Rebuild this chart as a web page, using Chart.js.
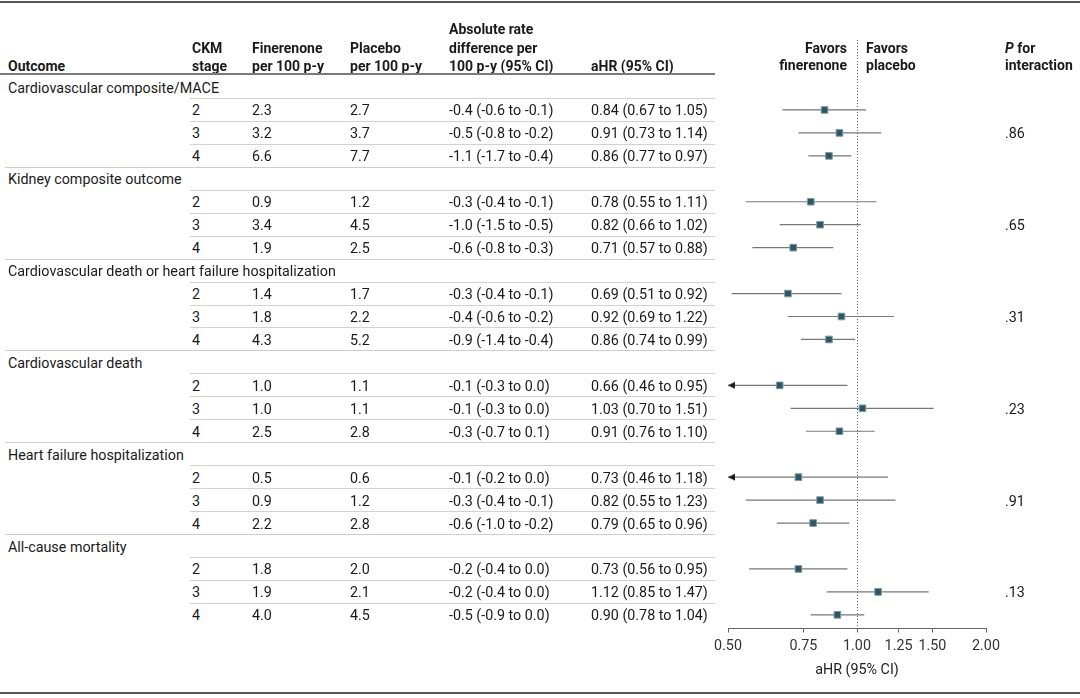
<!DOCTYPE html>
<html>
<head>
<meta charset="utf-8">
<script src="https://cdn.jsdelivr.net/npm/chart.js@4.4.1/dist/chart.umd.min.js"></script>
<style>
html, body { margin: 0; padding: 0; background: #fff; }
#page { position: relative; width: 1080px; height: 698px; overflow: hidden;
        font-family: Roboto, "Liberation Sans", sans-serif; font-size: 14.3px; color: #1a1a1a; }
.t { position: absolute; white-space: nowrap; line-height: 20px; height: 20px; }
.h { font-weight: bold; font-size: 14px; }
.r { text-align: right; }
.rule { position: absolute; height: 0; }
#plot { position: absolute; left: 700px; top: 0; width: 300px; height: 698px; }
</style>
</head>
<body>
<div id="page">
  <div id="plot"><canvas id="forest"></canvas></div>
</div>
<script>
// ---- data ----
const outcomes = [
    'Cardiovascular composite/MACE',
    'Kidney composite outcome',
    'Cardiovascular death or heart failure hospitalization',
    'Cardiovascular death',
    'Heart failure hospitalization',
    'All-cause mortality'
];
const stages = ['2', '3', '4'];

// events per 100 patient-years
const fineRate = [[2.3, 3.2, 6.6], [0.9, 3.4, 1.9], [1.4, 1.8, 4.3], [1.0, 1.0, 2.5], [0.5, 0.9, 2.2], [1.8, 1.9, 4.0]];
const placeboRate = [[2.7, 3.7, 7.7], [1.2, 4.5, 2.5], [1.7, 2.2, 5.2], [1.1, 1.1, 2.8], [0.6, 1.2, 2.8], [2.0, 2.1, 4.5]];

// absolute rate difference (95% CI)
const rateDiff = [[-0.4, -0.5, -1.1], [-0.3, -1.0, -0.6], [-0.3, -0.4, -0.9], [-0.1, -0.1, -0.3], [-0.1, -0.3, -0.6], [-0.2, -0.2, -0.5]];
const rateDiffLo = [[-0.6, -0.8, -1.7], [-0.4, -1.5, -0.8], [-0.4, -0.6, -1.4], [-0.3, -0.3, -0.7], [-0.2, -0.4, -1.0], [-0.4, -0.4, -0.9]];
const rateDiffHi = [[-0.1, -0.2, -0.4], [-0.1, -0.5, -0.3], [-0.1, -0.2, -0.4], [0.0, 0.0, 0.1], [0.0, -0.1, -0.2], [0.0, 0.0, 0.0]];

// adjusted hazard ratio (95% CI)
const hr = [[0.84, 0.91, 0.86], [0.78, 0.82, 0.71], [0.69, 0.92, 0.86], [0.66, 1.03, 0.91], [0.73, 0.82, 0.79], [0.73, 1.12, 0.90]];
const hrLo = [[0.67, 0.73, 0.77], [0.55, 0.66, 0.57], [0.51, 0.69, 0.74], [0.46, 0.70, 0.76], [0.46, 0.55, 0.65], [0.56, 0.85, 0.78]];
const hrHi = [[1.05, 1.14, 0.97], [1.11, 1.02, 0.88], [0.92, 1.22, 0.99], [0.95, 1.51, 1.10], [1.18, 1.23, 0.96], [0.95, 1.47, 1.04]];

const pInteraction = ['.86', '.65', '.31', '.23', '.91', '.13'];

const xTicks = [0.5, 0.75, 1.0, 1.25, 1.5, 2.0];
const xMin = 0.5;
const xMax = 2.0;

// ---- layout (page pixels) ----
const ROW0 = 87;        // centre of first row
const ROW_H = 22.95;
const PLOT_TOP = 40;
const AXIS_Y = 628.5;
const TABLE_RIGHT = 715;
const COLS = { outcome: 8, stage: 192, fine: 252, placebo: 350, diff: 449, hr: 591, p: 1005 };

const page = document.getElementById('page');

function addText(html, x, yc, cls, right) {
    const d = document.createElement('div');
    d.className = 't ' + (cls || '');
    d.innerHTML = html;
    d.style.top = (yc - 10) + 'px';
    if (right) {
        d.classList.add('r');
        d.style.right = (1080 - x) + 'px';
    } else {
        d.style.left = x + 'px';
    }
    page.appendChild(d);
}

function addRule(x1, x2, y, w, color) {
    const d = document.createElement('div');
    d.className = 'rule';
    d.style.left = x1 + 'px';
    d.style.width = (x2 - x1) + 'px';
    d.style.top = (y - w / 2) + 'px';
    d.style.borderTop = w + 'px solid ' + color;
    page.appendChild(d);
}

const fmt1 = v => v.toFixed(1);
const fmt2 = v => v.toFixed(2);

// header
const H1 = 29, H2 = 47.5, H3 = 66;
addText('Outcome', COLS.outcome, H3, 'h');
addText('CKM', COLS.stage, H2, 'h');
addText('stage', COLS.stage, H3, 'h');
addText('Finerenone', COLS.fine, H2, 'h');
addText('per 100 p-y', COLS.fine, H3, 'h');
addText('Placebo', COLS.placebo, H2, 'h');
addText('per 100 p-y', COLS.placebo, H3, 'h');
addText('Absolute rate', COLS.diff, H1, 'h');
addText('difference per', COLS.diff, H2, 'h');
addText('100 p-y (95% CI)', COLS.diff, H3, 'h');
addText('aHR (95% CI)', COLS.hr, H3, 'h');
addText('Favors', 847, H2, 'h', true);
addText('finerenone', 847, H3 - 1.5, 'h', true);
addText('Favors', 866, H2, 'h');
addText('placebo', 866, H3 - 1.5, 'h');
addText('<i>P</i> for', COLS.p, H2, 'h');
addText('interaction', COLS.p, H3 - 1.5, 'h');

addRule(0, 1080, 2, 2, '#555');
addRule(0, TABLE_RIGHT, 74, 2, '#7a7a7a');
addRule(0, 1080, 693, 2, '#555');

// body rows + chart points
const hrPts = [];
const arrowPts = [];
const ciSets = [];

outcomes.forEach((name, g) => {
    const kHead = 4 * g;
    const yHead = ROW0 + kHead * ROW_H;
    addText(name, COLS.outcome, yHead + 0.5);
    addRule(190, TABLE_RIGHT, yHead + ROW_H / 2, 1, '#d2d2d2');

    stages.forEach((st, s) => {
        const k = kHead + 1 + s;
        const y = ROW0 + k * ROW_H + 0.5;
        addText(st, COLS.stage, y);
        addText(fmt1(fineRate[g][s]), COLS.fine, y);
        addText(fmt1(placeboRate[g][s]), COLS.placebo, y);
        addText(fmt1(rateDiff[g][s]) + ' (' + fmt1(rateDiffLo[g][s]) + ' to ' + fmt1(rateDiffHi[g][s]) + ')', COLS.diff, y);
        addText(fmt2(hr[g][s]) + ' (' + fmt2(hrLo[g][s]) + ' to ' + fmt2(hrHi[g][s]) + ')', COLS.hr, y);
        if (s === 1) addText(pInteraction[g], COLS.p, y);

        if (s < 2) {
            addRule(190, TABLE_RIGHT, y - 0.5 + ROW_H / 2, 1, '#d2d2d2');
        } else if (g < outcomes.length - 1) {
            addRule(5, TABLE_RIGHT, y - 0.5 + ROW_H / 2, 1, '#cdcdcd');
        }

        hrPts.push({ x: hr[g][s], y: k });
        if (hrLo[g][s] < xMin) arrowPts.push({ x: xMin, y: k });
        ciSets.push({
            data: [{ x: hrLo[g][s], y: k }, { x: hrHi[g][s], y: k }],
            showLine: true,
            borderColor: '#777',
            borderWidth: 1.2,
            pointRadius: 0,
            order: 3
        });
    });
});

// left-pointing arrowhead, tip at the image centre
const arrowImg = document.createElement('canvas');
arrowImg.width = 16;
arrowImg.height = 8;
const actx = arrowImg.getContext('2d');
actx.fillStyle = '#1a1a1a';
actx.beginPath();
actx.moveTo(8, 4);
actx.lineTo(15, 0.5);
actx.lineTo(15, 7.5);
actx.closePath();
actx.fill();

// y scale chosen so that row k sits on the table row centre
const yMinVal = (PLOT_TOP - ROW0) / ROW_H;
const yMaxVal = (AXIS_Y - ROW0) / ROW_H;
const PLOT_LEFT = 700;

new Chart(document.getElementById('forest'), {
    type: 'scatter',
    data: {
        datasets: [
            {
                data: hrPts,
                pointStyle: 'rect',
                pointRadius: 4.7,
                backgroundColor: '#2e5563',
                borderColor: '#7f9ba3',
                borderWidth: 1,
                order: 1
            },
            {
                data: arrowPts,
                pointStyle: arrowImg,
                pointRadius: 4,
                clip: false,
                order: 2
            },
            ...ciSets
        ]
    },
    options: {
        responsive: true,
        maintainAspectRatio: false,
        animation: false,
        events: [],
        layout: { padding: { left: 728 - PLOT_LEFT, right: 1000 - 986, top: PLOT_TOP, bottom: 0 } },
        plugins: { legend: { display: false }, tooltip: { enabled: false } },
        scales: {
            x: {
                type: 'logarithmic',
                min: xMin,
                max: xMax,
                afterBuildTicks: scale => { scale.ticks = xTicks.map(v => ({ value: v })); },
                afterFit: scale => {
                    scale.height = 698 - AXIS_Y;
                    scale.paddingLeft = 0;
                    scale.paddingRight = 0;
                },
                ticks: {
                    autoSkip: false,
                    maxRotation: 0,
                    padding: 5,
                    color: '#333',
                    font: { family: 'Roboto', size: 14.3 },
                    callback: v => Number(v).toFixed(2)
                },
                grid: {
                    display: true,
                    drawOnChartArea: true,
                    drawTicks: true,
                    tickLength: 4,
                    tickColor: '#666',
                    tickWidth: 1,
                    lineWidth: 1,
                    color: ctx => (ctx.tick && ctx.tick.value === 1 ? '#666' : 'rgba(0,0,0,0)')
                },
                border: { display: true, color: '#666', width: 1, dash: [1, 2] },
                title: {
                    display: true,
                    text: 'aHR (95% CI)',
                    color: '#222',
                    font: { family: 'Roboto', size: 14.3 },
                    padding: { top: 4, bottom: 19 }
                }
            },
            y: {
                type: 'linear',
                display: false,
                reverse: true,
                min: yMinVal,
                max: yMaxVal
            }
        }
    }
});
</script>
</body>
</html>
